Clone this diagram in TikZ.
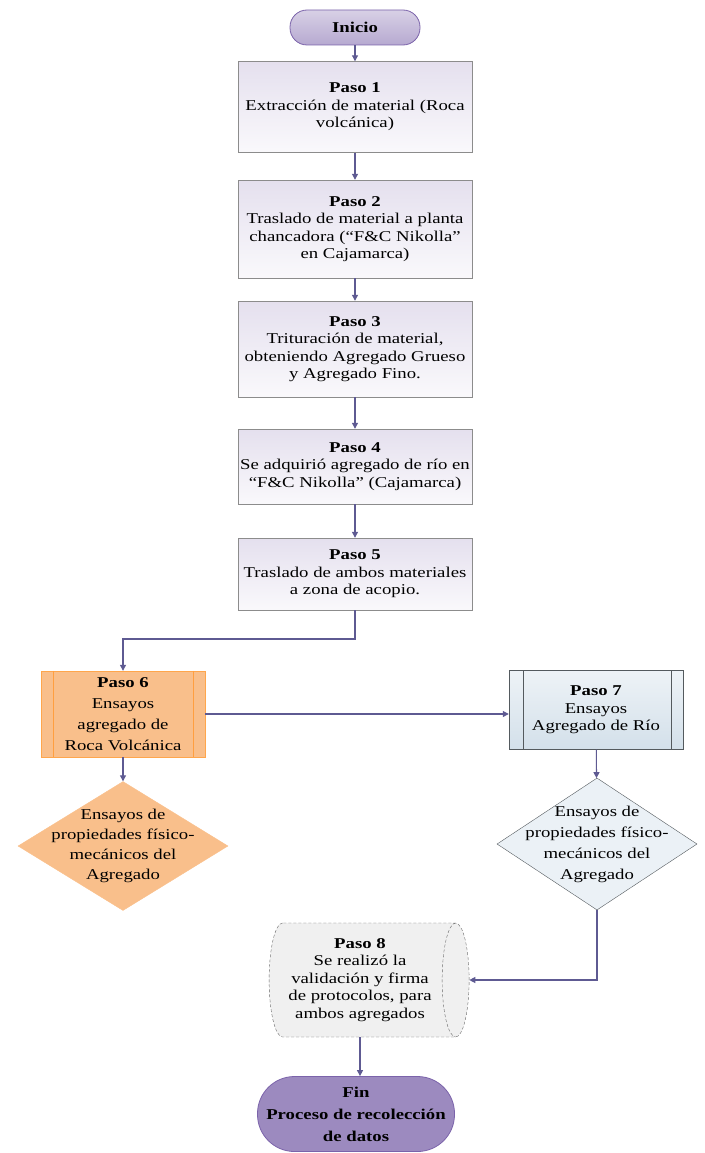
\documentclass[tikz,border=0pt]{standalone}
\usepackage{fontspec}
\setmainfont{Liberation Serif}[FakeStretch=1.25]
\usetikzlibrary{shapes.geometric,arrows.meta}
\definecolor{flujo}{HTML}{5E5A92}
\definecolor{lila}{HTML}{7B63AA}
\definecolor{naranja}{HTML}{F9BF8B}
\definecolor{celeste}{HTML}{D3E0EA}

\begin{document}
\begin{tikzpicture}[x=1pt,y=-1pt,
  paso/.style={draw=black!45,top color=lila!20,bottom color=lila!4,minimum width=234pt,inner xsep=1pt,align=center,
    font=\fontsize{15}{17.5}\selectfont},
  terminal/.style={draw=lila,line width=0.8pt,inner sep=0pt,align=center,font=\fontsize{15}{22}\selectfont},
  predef/.style={draw,minimum width=164pt,align=center},
  rombo/.style={diamond,draw,inner sep=0pt},
  flecha/.style={draw=flujo,line width=1.1pt,-{Triangle[length=6pt,width=6pt]}}]
\useasboundingbox (0,0) rectangle (704,1153);
\node[terminal,rounded corners=17pt,top color=lila!30,bottom color=lila!55,minimum width=130pt,minimum height=35pt] (inicio) at (355,27.5) {\textbf{Inicio}};
\node[paso,minimum height=91pt] (p1) at (355,107) {\textbf{Paso 1}\\Extracción de material (Roca\\volcánica)};
\node[paso,minimum height=98pt] (p2) at (355,229) {\textbf{Paso 2}\\Traslado de material a planta\\chancadora (“F\&C Nikolla”\\en Cajamarca)};
\node[paso,minimum height=96pt] (p3) at (355,349) {\textbf{Paso 3}\\Trituración de material,\\obteniendo Agregado Grueso\\y Agregado Fino.};
\node[paso,minimum height=75pt] (p4) at (355,466.5) {\textbf{Paso 4}\\Se adquirió agregado de río en\\“F\&C Nikolla” (Cajamarca)};
\node[paso,minimum height=72pt] (p5) at (355,574) {\textbf{Paso 5}\\Traslado de ambos materiales\\a zona de acopio.};
\coordinate (codo) at (355,639);

\node[predef,draw=orange!70,fill=naranja,minimum height=86pt,font=\fontsize{15}{21}\selectfont] (p6) at (123,714) {\textbf{Paso 6}\\Ensayos\\agregado de\\Roca Volcánica};
\draw[orange!75] ([xshift=12pt]p6.north west) -- ([xshift=12pt]p6.south west);
\draw[orange!75] ([xshift=-12pt]p6.north east) -- ([xshift=-12pt]p6.south east);
\node[predef,draw=celeste!40!black,top color=celeste!40,bottom color=celeste,minimum width=174pt,minimum height=79pt,
  font=\fontsize{15}{17.5}\selectfont] (p7) at (596,710) {\textbf{Paso 7}\\Ensayos\\Agregado de Río};
\draw[celeste!40!black] ([xshift=14pt]p7.north west) -- ([xshift=14pt]p7.south west);
\draw[celeste!40!black] ([xshift=-12pt]p7.north east) -- ([xshift=-12pt]p7.south east);

\node[rombo,draw=naranja,fill=naranja,minimum width=210pt,minimum height=129pt,
  label={[align=center,font=\fontsize{15}{20}\selectfont]center:Ensayos de\\propiedades físico-\\mecánicos del\\Agregado}] (d6) at (123,846) {};
\node[rombo,draw=celeste!40!black,fill=celeste!45,minimum width=200pt,minimum height=132pt,
  label={[align=center,font=\fontsize{15}{21}\selectfont]center:Ensayos de\\propiedades físico-\\mecánicos del\\Agregado}] (d7) at (597,844) {};

\node[cylinder,draw=black!60,densely dashed,fill=black!6,shape aspect=0.3,minimum width=114pt,minimum height=200pt,
  align=center,font=\fontsize{15}{17.5}\selectfont] (p8) at (360,980) {\textbf{Paso 8}\\Se realizó la\\validación y firma\\de protocolos, para\\ambos agregados};
\node[terminal,rounded corners=37pt,fill=lila!75,minimum width=197pt,minimum height=75pt] (fin) at (356,1114) {\textbf{Fin}\\\textbf{Proceso de recolección}\\\textbf{de datos}};

\draw[flecha] (inicio) -- (p1);
\draw[flecha] (p1) -- (p2);
\draw[flecha] (p2) -- (p3);
\draw[flecha] (p3) -- (p4);
\draw[flecha] (p4) -- (p5);
\draw[flecha] (p5) -- (codo) -| (p6);
\draw[flecha] (p6.east) -- (p6.east -| p7.west);
\draw[flecha] (p6) -- (d6);
\draw[flecha] (p7) -- (d7);
\draw[flecha] (d7.south) |- (p8.east);
\draw[flecha] (p8.south) -- (p8.south |- fin.north);
\end{tikzpicture}
\end{document}
